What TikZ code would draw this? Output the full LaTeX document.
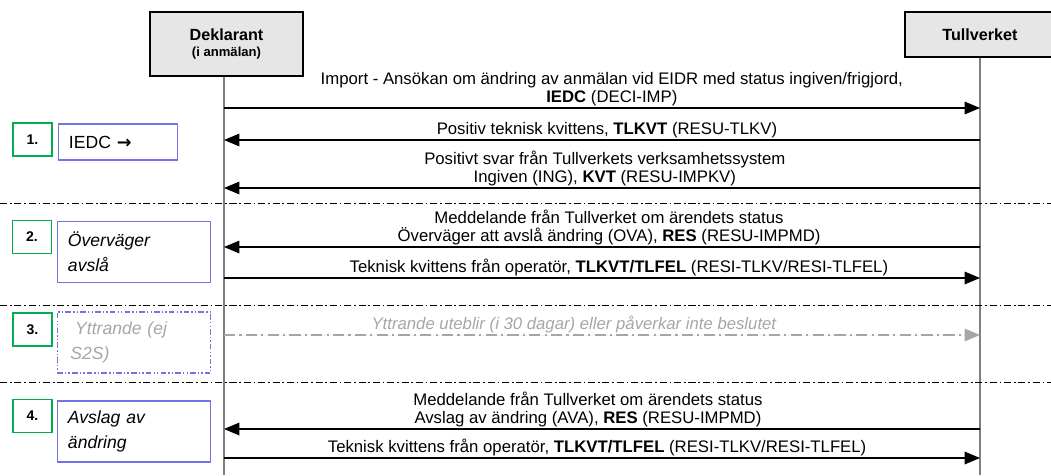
\documentclass[tikz,border=0pt]{standalone}
\usepackage{fontspec}
\setmainfont{Liberation Sans}
\newfontfamily\arrowfont{DejaVu Sans}
\usetikzlibrary{arrows.meta,positioning}
\definecolor{partfill}{HTML}{E6E6E6}
\definecolor{lifeln}{HTML}{7F7F7F}
\definecolor{stepgreen}{HTML}{00B050}
\definecolor{stateblue}{HTML}{7373E6}
\definecolor{muted}{HTML}{A6A6A6}

\begin{document}
\begin{tikzpicture}[
  x=0.025cm, y=-0.025cm,
  msg/.style={line width=0.9pt, -{Triangle[length=11pt, width=9pt]}},
  lbl/.style={font=\fontsize{11.9}{13}\selectfont, align=center, inner sep=1pt},
  part/.style={draw, line width=1.4pt, fill=partfill, align=center, font=\bfseries\fontsize{11.5}{13}\selectfont},
  life/.style={draw=lifeln, line width=1pt},
  sep/.style={line width=0.7pt, dash pattern=on 5pt off 2pt on 1.2pt off 2pt},
  num/.style={draw=stepgreen, line width=1.2pt, minimum width=9.75mm, minimum height=8.25mm, font=\bfseries\fontsize{10}{12}\selectfont},
  state/.style={draw=stateblue, line width=0.8pt, minimum width=38mm, minimum height=15.25mm, text width=33mm, inner xsep=2.7mm, align=left, font=\itshape\fontsize{12.5}{17.5}\selectfont},
]
\clip (0,0) rectangle (1051,475);

% Participants
\node[part, minimum width=38.25mm, minimum height=16mm] (dek) at (226.5,44)
  {Deklarant\\[-2pt]{\fontsize{9.3}{10}\selectfont (i anmälan)}};
\node[part, minimum width=37.5mm, minimum height=11.25mm] (tull) at (980,34.5) {Tullverket};
\coordinate (dekend) at (224,475);
\coordinate (tullend) at (980,475);
\draw[life] (dek.south -| dekend) -- (dekend);
\draw[life] (tull.south) -- (tullend);

\foreach \n/\y in {1/108,2/140,3/188,4/247,5/278,6/335,7/429,8/458}{
  \coordinate (d\n) at (224,\y);
  \coordinate (t\n) at (980,\y);
}
\foreach \n/\y in {1/203,2/305,3/382}{
  \coordinate (sl\n) at (0,\y);
  \coordinate (sr\n) at (1051,\y);
  \draw[sep] (sl\n) -- (sr\n);
}

% Step 1
\node[num] (n1) at (32.5,139.5) {1.};
\node[state, minimum width=29.5mm, minimum height=9mm, text width=24.5mm, font=\fontsize{12.5}{15}\selectfont] (s1) at (118,142) {IEDC {\arrowfont\bfseries →}};
\draw[msg] (d1) -- node[lbl, above, xshift=7pt] (m1) {Import - Ansökan om ändring av anmälan vid EIDR med status ingiven/frigjord,\\\textbf{IEDC} (DECI-IMP)} (t1);
\draw[msg] (t2) -- node[lbl, above, xshift=3.5pt] (m2) {Positiv teknisk kvittens, \textbf{TLKVT} (RESU-TLKV)} (d2);
\draw[msg] (t3) -- node[lbl, above, xshift=2pt] (m3) {Positivt svar från Tullverkets verksamhetssystem\\Ingiven (ING), \textbf{KVT} (RESU-IMPKV)} (d3);

% Step 2
\node[num] (n2) at (32,237) {2.};
\node[state] (s2) at (134,252) {Överväger\\avslå};
\draw[msg] (t4) -- node[lbl, above, xshift=5pt] (m4) {Meddelande från Tullverket om ärendets status\\Överväger att avslå ändring (OVA), \textbf{RES} (RESU-IMPMD)} (d4);
\draw[msg] (d5) -- node[lbl, above, xshift=12pt] (m5) {Teknisk kvittens från operatör, \textbf{TLKVT/TLFEL} (RESI-TLKV/RESI-TLFEL)} (t5);

% Step 3
\node[num] (n3) at (32.5,329.5) {3.};
\node[state, text=muted, dash pattern=on 4pt off 1.5pt on 1pt off 1.5pt on 1pt off 1.5pt] (s3) at (134,342.5) {\hspace*{1.8mm}Yttrande (ej\\\hspace*{0.6mm}S2S)};
\draw[msg, draw=muted, fill=muted, dash pattern=on 8pt off 3pt on 1.5pt off 3pt] (d6) -- node[lbl, above, xshift=-20pt, text=muted, font=\itshape\fontsize{11.9}{13}\selectfont] (m6) {Yttrande uteblir (i 30 dagar) eller påverkar inte beslutet} (t6);

% Step 4
\node[num] (n4) at (32.5,416) {4.};
\node[state] (s4) at (134,431.5) {Avslag av\\ändring};
\draw[msg] (t7) -- node[lbl, above, xshift=-10pt] (m7) {Meddelande från Tullverket om ärendets status\\Avslag av ändring (AVA), \textbf{RES} (RESU-IMPMD)} (d7);
\draw[msg] (d8) -- node[lbl, above, xshift=-3.5pt] (m8) {Teknisk kvittens från operatör, \textbf{TLKVT/TLFEL} (RESI-TLKV/RESI-TLFEL)} (t8);

\end{tikzpicture}
\end{document}
